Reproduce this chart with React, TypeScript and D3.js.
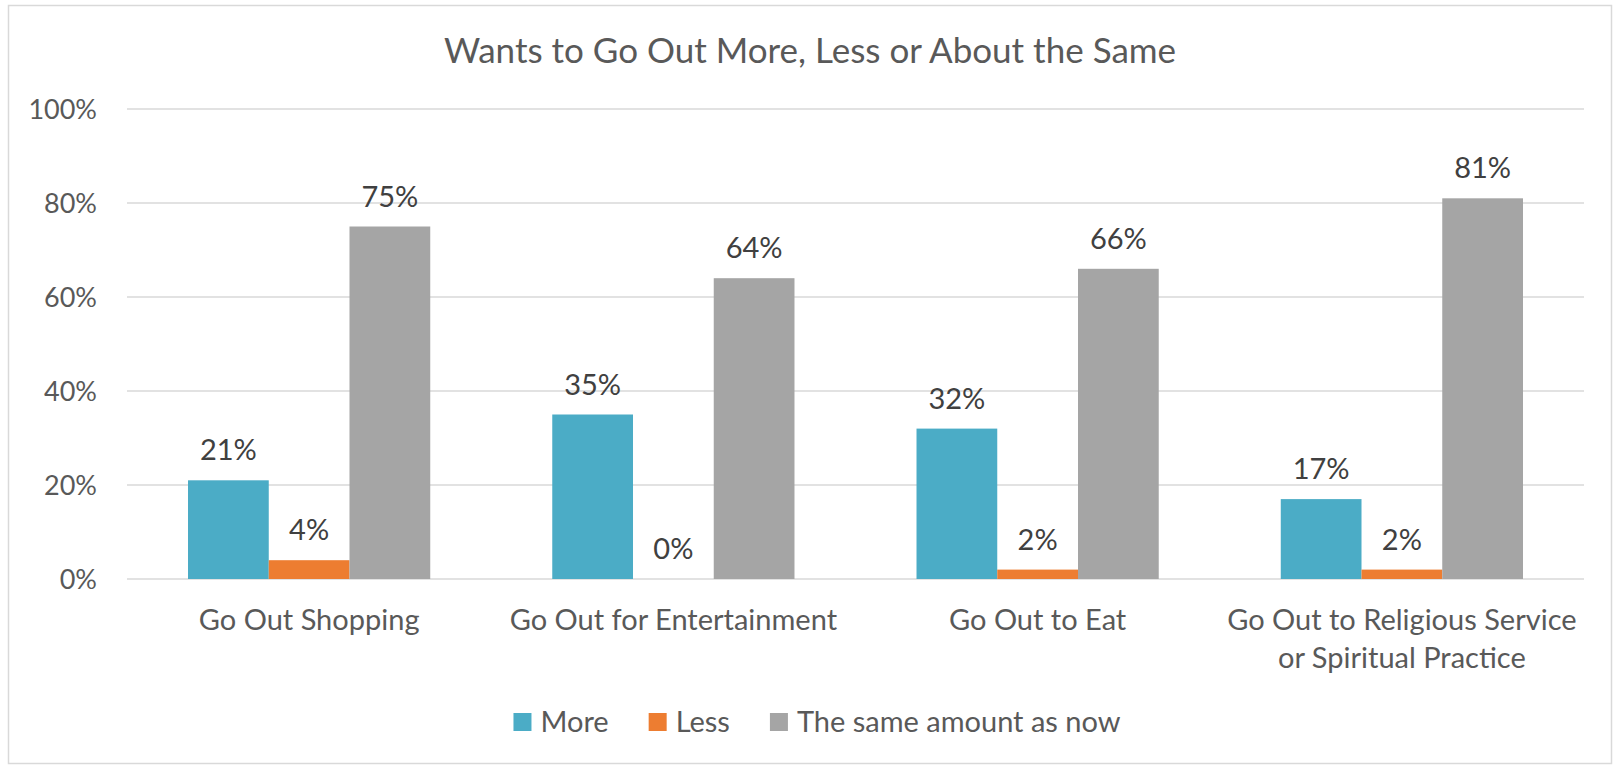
import React from "react";
import * as d3 from "d3";

const categories: string[][] = [
  ["Go Out Shopping"],
  ["Go Out for Entertainment"],
  ["Go Out to Eat"],
  ["Go Out to Religious Service", "or Spiritual Practice"],
];
const seriesNames = ["More", "Less", "The same amount as now"];
const moreValues = [21, 35, 32, 17];
const lessValues = [4, 0, 2, 2];
const sameValues = [75, 64, 66, 81];
const yTicks = [0, 20, 40, 60, 80, 100];
const title = "Wants to Go Out More, Less or About the Same";

const colors = ["#4bacc6", "#ed7d31", "#a5a5a5"];
const FONT = "Lato, 'Open Sans', sans-serif";

const W = 1613;
const H = 765;
const plotLeft = 127;
const plotRight = 1584;
const plotTop = 109;
const plotBottom = 579;

function measure(text: string, size: number): number {
  const c = document.createElement("canvas");
  const ctx = c.getContext("2d");
  if (!ctx) return text.length * size * 0.5;
  ctx.font = `${size}px ${FONT}`;
  return ctx.measureText(text).width;
}

export default function App() {
  const series = [moreValues, lessValues, sameValues];
  const keys = categories.map((c) => c.join(" "));
  const x = d3
    .scaleBand<string>()
    .domain(keys)
    .range([plotLeft, plotRight])
    .paddingInner(0.335)
    .paddingOuter(0.1675);
  const xs = d3
    .scaleBand<number>()
    .domain([0, 1, 2])
    .range([0, x.bandwidth()]);
  const y = d3.scaleLinear().domain([0, 100]).range([plotBottom, plotTop]);

  const axisSize = 29;
  const tickSize = 27;
  const legendSize = 29;
  const keySize = 18;
  const keyGap = 9;
  const itemGap = 40;
  const widths = seriesNames.map((n) => measure(n, legendSize));
  const totalLegend =
    widths.reduce((a, w) => a + keySize + keyGap + w, 0) + itemGap * (seriesNames.length - 1);
  let lx = 817 - totalLegend / 2;
  const legendItems = seriesNames.map((name, i) => {
    const item = { name, x: lx, color: colors[i] };
    lx += keySize + keyGap + widths[i] + itemGap;
    return item;
  });

  return (
    <svg
      width={W}
      height={H}
      style={{ position: "absolute", left: 0, top: 0, background: "#fff" }}
      fontFamily={FONT}
    >
      <rect x={8.5} y={5.5} width={1603} height={758} fill="#fff" stroke="#d9d9d9" strokeWidth={1.5} />
      <text x={810} y={63} textAnchor="middle" fontSize={35} fill="#595959">
        {title}
      </text>
      {yTicks.map((t) => (
        <g key={t}>
          <line x1={plotLeft} x2={plotRight} y1={y(t)} y2={y(t)} stroke="#d9d9d9" strokeWidth={1.5} />
          <text x={97} y={y(t)} dy="0.36em" textAnchor="end" fontSize={tickSize} fill="#595959">
            {t}%
          </text>
        </g>
      ))}
      {keys.map((k, ci) => (
        <g key={k}>
          {series.map((vals, si) => {
            const bx = (x(k) as number) + (xs(si) as number);
            const v = vals[ci];
            return (
              <g key={si}>
                <rect
                  x={bx}
                  y={y(v)}
                  width={xs.bandwidth()}
                  height={plotBottom - y(v)}
                  fill={colors[si]}
                />
                <text
                  x={bx + xs.bandwidth() / 2}
                  y={y(v) - 20}
                  textAnchor="middle"
                  fontSize={axisSize}
                  fill="#404040"
                >
                  {v}%
                </text>
              </g>
            );
          })}
          {categories[ci].map((line, li) => (
            <text
              key={li}
              x={(x(k) as number) + x.bandwidth() / 2}
              y={630 + li * 38}
              textAnchor="middle"
              fontSize={axisSize}
              fill="#595959"
            >
              {line}
            </text>
          ))}
        </g>
      ))}
      {legendItems.map((it) => (
        <g key={it.name}>
          <rect x={it.x} y={713} width={keySize} height={keySize} fill={it.color} />
          <text x={it.x + keySize + keyGap} y={732} fontSize={legendSize} fill="#595959">
            {it.name}
          </text>
        </g>
      ))}
    </svg>
  );
}
